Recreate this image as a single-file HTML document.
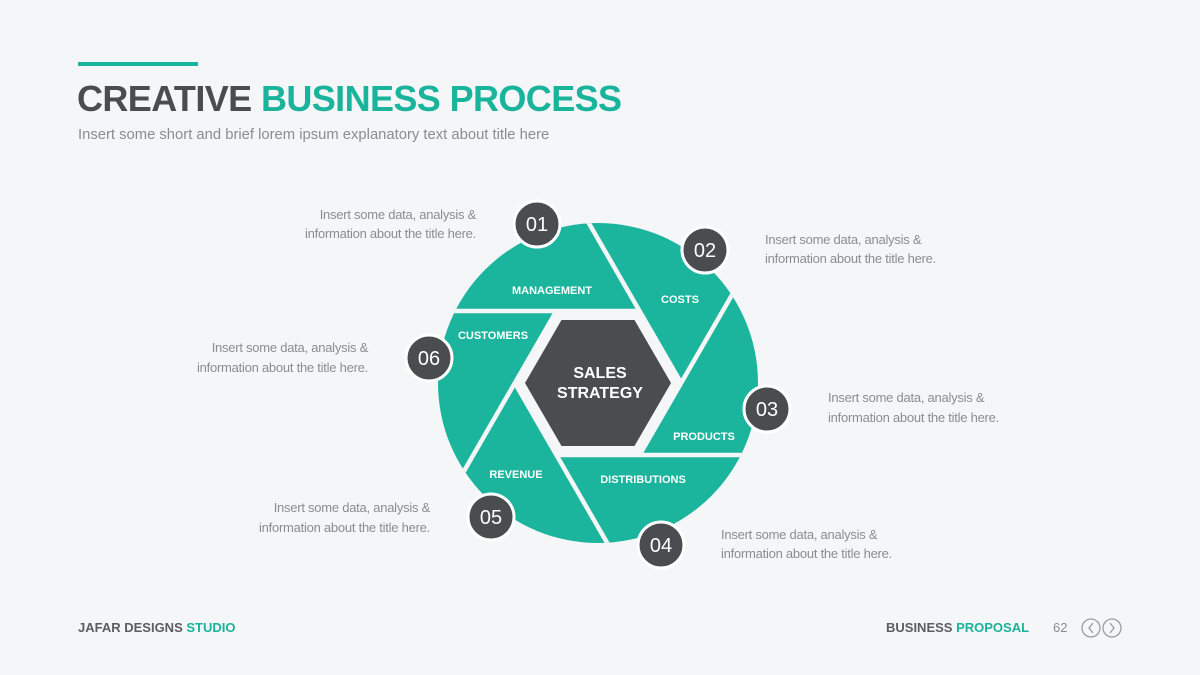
<!DOCTYPE html>
<html><head><meta charset="utf-8"><style>
html,body{margin:0;padding:0;}
body{width:1200px;height:675px;background:#f5f6f8;position:relative;overflow:hidden;font-family:"Liberation Sans",sans-serif;}
.bar{position:absolute;left:78px;top:62px;width:120px;height:4px;background:#1ab39b;}
.title{position:absolute;left:77px;top:78px;font-size:36px;font-weight:bold;color:#4a4d4f;letter-spacing:-0.6px;white-space:nowrap;}
.title span{color:#1ab39b;}
.sub{position:absolute;left:78px;top:127px;font-size:14.8px;color:#8a8d90;white-space:nowrap;}
.foot{position:absolute;top:620px;font-size:13px;font-weight:bold;color:#5b5e61;white-space:nowrap;}
.foot span{color:#1ab39b;}
</style></head><body>
<div class="bar"></div>
<div class="title">CREATIVE <span>BUSINESS PROCESS</span></div>
<div class="sub">Insert some short and brief lorem ipsum explanatory text about title here</div>
<div class="foot" style="left:78px">JAFAR DESIGNS <span>STUDIO</span></div>
<div class="foot" style="left:886px">BUSINESS <span>PROPOSAL</span></div>
<div class="foot" style="left:1053px;font-weight:normal;color:#8a8d90">62</div>
<svg width="1200" height="675" style="position:absolute;left:0;top:0" xmlns="http://www.w3.org/2000/svg">
<defs><clipPath id="c"><circle cx="598" cy="383" r="160"/></clipPath></defs>
<circle cx="1091" cy="628" r="9" fill="none" stroke="#9a9da0" stroke-width="1.3"/>
<circle cx="1112" cy="628" r="9" fill="none" stroke="#9a9da0" stroke-width="1.3"/>
<path d="M1093 623 l-4 5 l4 5 M1110 623 l4 5 l-4 5" fill="none" stroke="#9a9da0" stroke-width="1.3"/>
<circle cx="598" cy="383" r="160" fill="#1bb49c"/>
<g clip-path="url(#c)">
<polygon points="681,383 639.5,311 556.5,311 515,383 556.5,455 639.5,455" fill="#f5f6f8"/>
<g stroke="#f5f6f8" stroke-width="4.5">
<line x1="640" y1="311" x2="400" y2="311"/>
<line x1="640" y1="311" x2="400" y2="311" transform="rotate(60 598 383)"/>
<line x1="640" y1="311" x2="400" y2="311" transform="rotate(120 598 383)"/>
<line x1="640" y1="311" x2="400" y2="311" transform="rotate(180 598 383)"/>
<line x1="640" y1="311" x2="400" y2="311" transform="rotate(240 598 383)"/>
<line x1="640" y1="311" x2="400" y2="311" transform="rotate(300 598 383)"/>
</g>
</g>
<polygon points="671,383 634.5,320 561.5,320 525,383 561.5,446 634.5,446" fill="#4a4d4f"/>
<g font-family="Liberation Sans,sans-serif" font-weight="bold" fill="#fff" text-anchor="middle">
<text x="600" y="378" font-size="16">SALES</text>
<text x="600" y="398" font-size="16">STRATEGY</text>
<g font-size="11">
<text x="552" y="294">MANAGEMENT</text>
<text x="680" y="303">COSTS</text>
<text x="704" y="440">PRODUCTS</text>
<text x="643" y="483">DISTRIBUTIONS</text>
<text x="516" y="478">REVENUE</text>
<text x="493" y="339">CUSTOMERS</text>
</g>
</g>
<g fill="#4a4d4f" stroke="#fff" stroke-width="3">
<circle cx="537" cy="224" r="23"/><circle cx="705" cy="250" r="23"/><circle cx="767" cy="409" r="23"/>
<circle cx="661" cy="545" r="23"/><circle cx="491" cy="517" r="23"/><circle cx="429" cy="358" r="23"/>
</g>
<g font-family="Liberation Sans,sans-serif" font-size="20" fill="#fff" text-anchor="middle">
<text x="537" y="231">01</text><text x="705" y="257">02</text><text x="767" y="416">03</text>
<text x="661" y="552">04</text><text x="491" y="524">05</text><text x="429" y="365">06</text>
</g>
<g font-family="Liberation Sans,sans-serif" font-size="13" fill="#8a8d90" letter-spacing="-0.25">
<g text-anchor="end">
<text x="476" y="219">Insert some data, analysis &amp;</text><text x="476" y="238">information about the title here.</text>
<text x="368" y="352">Insert some data, analysis &amp;</text><text x="368" y="372">information about the title here.</text>
<text x="430" y="512">Insert some data, analysis &amp;</text><text x="430" y="532">information about the title here.</text>
</g>
<text x="765" y="244">Insert some data, analysis &amp;</text><text x="765" y="263">information about the title here.</text>
<text x="828" y="402">Insert some data, analysis &amp;</text><text x="828" y="422">information about the title here.</text>
<text x="721" y="539">Insert some data, analysis &amp;</text><text x="721" y="558">information about the title here.</text>
</g>
</svg>
</body></html>
